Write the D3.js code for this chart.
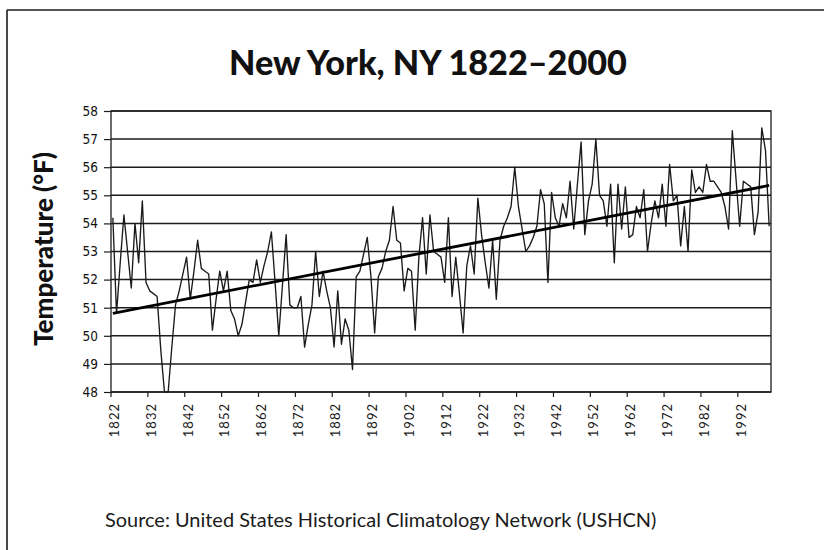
<!DOCTYPE html>
<html>
<head>
<meta charset="utf-8">
<script src="https://cdn.jsdelivr.net/npm/d3@7"></script>
<style>
  html, body { margin: 0; padding: 0; background: #fff; }
  svg { display: block; }
</style>
</head>
<body>
<script>
// ---------------- DATA ----------------
const titleText = "New York, NY 1822\u20132000";
const yAxisTitle = "Temperature (\u00B0F)";
const sourceText = "Source: United States Historical Climatology Network (USHCN)";

const firstYear = 1822;
const lastYear = 2000;
const years = d3.range(firstYear, lastYear + 1);

const yTicks = [48, 49, 50, 51, 52, 53, 54, 55, 56, 57, 58];
const xTickLabels = [1822, 1832, 1842, 1852, 1862, 1872, 1882, 1892, 1902, 1912,
                     1922, 1932, 1942, 1952, 1962, 1972, 1982, 1992];

// annual mean temperature (°F), 1822..2000
const temps = [
  54.2, 50.8, 52.6, 54.3, 53.0, 51.7, 54.0, 52.6, 54.8, 51.9,   // 1822-1831
  51.6, 51.5, 51.4, 49.5, 48.0, 48.0, 49.6, 51.1, 51.6, 52.2,   // 1832-1841
  52.8, 51.3, 52.3, 53.4, 52.4, 52.3, 52.2, 50.2, 51.3, 52.3,   // 1842-1851
  51.6, 52.3, 50.9, 50.6, 50.0, 50.4, 51.2, 52.0, 51.9, 52.7,   // 1852-1861
  51.9, 52.5, 53.0, 53.7, 51.9, 50.0, 51.8, 53.6, 51.1, 51.0,   // 1862-1871
  51.0, 51.4, 49.6, 50.4, 51.1, 53.0, 51.4, 52.3, 51.6, 51.0,   // 1872-1881
  49.6, 51.6, 49.7, 50.6, 50.2, 48.8, 52.1, 52.3, 52.9, 53.5,   // 1882-1891
  52.1, 50.1, 52.1, 52.4, 53.0, 53.4, 54.6, 53.4, 53.3, 51.6,   // 1892-1901
  52.4, 52.3, 50.2, 52.8, 54.2, 52.2, 54.3, 53.0, 52.9, 52.8,   // 1902-1911
  51.9, 54.2, 51.4, 52.8, 51.5, 50.1, 52.5, 53.2, 52.2, 54.9,   // 1912-1921
  53.6, 52.6, 51.7, 53.4, 51.3, 53.4, 53.9, 54.2, 54.6, 56.0,   // 1922-1931
  54.6, 53.8, 53.0, 53.2, 53.5, 53.9, 55.2, 54.7, 51.9, 55.1,   // 1932-1941
  54.2, 53.9, 54.7, 54.2, 55.5, 53.8, 55.4, 56.9, 53.6, 54.8,   // 1942-1951
  55.4, 57.0, 55.0, 54.8, 53.9, 55.4, 52.6, 55.4, 53.8, 55.3,   // 1952-1961
  53.5, 53.6, 54.6, 54.2, 55.2, 53.0, 54.0, 54.8, 54.2, 55.4,   // 1962-1971
  53.9, 56.1, 54.8, 55.0, 53.2, 54.6, 53.0, 55.9, 55.1, 55.3,   // 1972-1981
  55.1, 56.1, 55.5, 55.5, 55.3, 55.1, 54.6, 53.8, 57.3, 55.6,   // 1982-1991
  53.9, 55.5, 55.4, 55.3, 53.6, 54.4, 57.4, 56.6, 53.9          // 1992-2000
];

// linear trend line (start, end)
const trendYears = [1822, 2000];
const trendValues = [50.8, 55.35];

// ---------------- CHART ----------------
const W = 824, H = 550;
const plot = { left: 111, right: 771, top: 111, bottom: 392 };
const ink = "#1c1c1c";

const svg = d3.select("body").append("svg")
  .attr("width", W).attr("height", H)
  .style("background", "#fff");

// frame lines (scanned page border)
svg.append("line").attr("x1", 7).attr("x2", W).attr("y1", 10).attr("y2", 10)
  .attr("stroke", ink).attr("stroke-width", 1.6);
svg.append("line").attr("x1", 7).attr("x2", 7).attr("y1", 10).attr("y2", H)
  .attr("stroke", ink).attr("stroke-width", 1.6);

const x = d3.scaleBand().domain(years).range([plot.left, plot.right]).padding(0);
const cx = yr => x(yr) + x.bandwidth() / 2;
const y = d3.scaleLinear().domain([48, 58]).range([plot.bottom, plot.top]);

function fitText(sel, targetWidth, baseSize) {
  sel.style("font-size", baseSize + "px");
  const w = sel.node().getComputedTextLength();
  if (w > 0) sel.style("font-size", (baseSize * targetWidth / w).toFixed(2) + "px");
}

// gridlines
svg.append("g").selectAll("line").data(yTicks).join("line")
  .attr("x1", plot.left).attr("x2", plot.right)
  .attr("y1", d => y(d)).attr("y2", d => y(d))
  .attr("stroke", ink).attr("stroke-width", 1.5);

// plot border
svg.append("rect")
  .attr("x", plot.left).attr("y", plot.top)
  .attr("width", plot.right - plot.left).attr("height", plot.bottom - plot.top)
  .attr("fill", "none").attr("stroke", ink).attr("stroke-width", 1.3);

// y ticks & labels
const yAxis = d3.axisLeft(y).tickValues(yTicks).tickSize(7).tickPadding(6).tickFormat(d3.format("d"));
const gy = svg.append("g").attr("transform", `translate(${plot.left},0)`).call(yAxis);
gy.select(".domain").remove();
gy.selectAll(".tick line").attr("stroke", ink).attr("stroke-width", 1.2);
gy.selectAll(".tick text")
  .attr("fill", "#111")
  .style("font-family", "'DejaVu Sans Condensed', 'DejaVu Sans', sans-serif")
  .style("font-size", "13.5px");

// x ticks (at category boundaries)
svg.append("g").selectAll("line").data(xTickLabels).join("line")
  .attr("x1", d => x(d)).attr("x2", d => x(d))
  .attr("y1", plot.bottom).attr("y2", plot.bottom + 5)
  .attr("stroke", ink).attr("stroke-width", 1.2);

// x labels rotated
svg.append("g").selectAll("text").data(xTickLabels).join("text")
  .attr("transform", d => `translate(${cx(d) + 6},${plot.bottom + 11}) rotate(-90)`)
  .attr("text-anchor", "end")
  .attr("fill", "#1a1a1a")
  .style("font-family", "Lato, 'Open Sans', sans-serif")
  .style("font-weight", "400")
  .style("font-size", "13px")
  .style("letter-spacing", "1px")
  .text(d => d);

// data line
const line = d3.line().x((d, i) => cx(years[i])).y(d => y(d));
svg.append("path").datum(temps)
  .attr("d", line)
  .attr("fill", "none").attr("stroke", "#1a1a1a").attr("stroke-width", 1.35)
  .attr("stroke-linejoin", "round");

// trend line
const tline = d3.line().x((d, i) => cx(trendYears[i])).y(d => y(d));
svg.append("path").datum(trendValues)
  .attr("d", tline)
  .attr("fill", "none").attr("stroke", "#000").attr("stroke-width", 2.8);

// title
const t = svg.append("text")
  .attr("x", 428).attr("y", 75)
  .attr("text-anchor", "middle")
  .attr("fill", "#111")
  .style("font-family", "Lato, 'Open Sans', sans-serif")
  .style("font-weight", "900")
  .text(titleText);
fitText(t, 398, 27);

// y-axis title
const yt = svg.append("text")
  .attr("transform", "translate(53,249) rotate(-90)")
  .attr("text-anchor", "middle")
  .attr("fill", "#111")
  .style("font-family", "Lato, 'Open Sans', sans-serif")
  .style("font-weight", "900")
  .text(yAxisTitle);
fitText(yt, 194, 20);

// source
const s = svg.append("text")
  .attr("x", 105).attr("y", 527)
  .attr("fill", "#1a1a1a")
  .style("font-family", "Lato, 'Open Sans', sans-serif")
  .style("font-weight", "400")
  .text(sourceText);
fitText(s, 552, 17);
</script>
</body>
</html>
